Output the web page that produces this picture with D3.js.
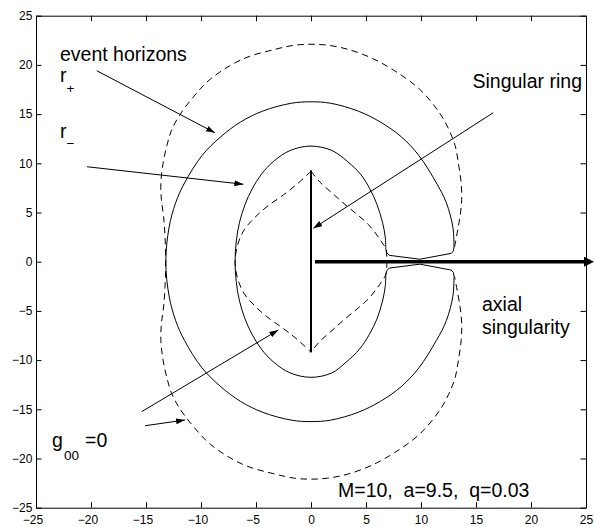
<!DOCTYPE html>
<html>
<head>
<meta charset="utf-8">
<script src="https://cdn.jsdelivr.net/npm/d3@7"></script>
<style>
  body { margin: 0; background: #fff; }
  svg { display: block; font-family: "Liberation Sans", Arial, Helvetica, sans-serif; }
  .axis text { font-size: 12px; fill: #000; font-family: "Liberation Sans", Arial, Helvetica, sans-serif; }
  .axis path, .axis line { stroke: #000; stroke-width: 1; }
  .note { font-size: 19.5px; fill: #000; white-space: pre; }
  .sub { font-size: 13.5px; fill: #000; }
</style>
</head>
<body>
<svg width="594" height="527"></svg>
<script>
const xTicks = [-25, -20, -15, -10, -5, 0, 5, 10, 15, 20, 25];
const yTicks = [-25, -20, -15, -10, -5, 0, 5, 10, 15, 20, 25];

// outer horizon r+, from the upper pinch corner round the left side to the lower one
const rPlus = [
  [13.0, 1.5], [12.9, 3.5], [12.3, 6.0], [11.4, 8.0], [9.8, 10.8], [8.2, 12.7], [6.3, 14.2],
  [4.3, 15.3], [1.8, 16.1], [0, 16.25], [-1.8, 16.1], [-4.4, 15.3], [-6.4, 14.2], [-8.2, 12.7],
  [-9.9, 10.8], [-11.5, 8.0], [-12.3, 6.0], [-12.9, 3.5], [-13.2, 0], [-12.9, -3.5], [-12.3, -6.0],
  [-11.5, -8.0], [-9.9, -10.8], [-8.2, -12.7], [-6.4, -14.2], [-4.4, -15.3], [-1.8, -16.1], [0, -16.25],
  [1.8, -16.1], [4.3, -15.3], [6.3, -14.2], [8.2, -12.7], [9.8, -10.8], [11.4, -8.0], [12.3, -6.0],
  [12.9, -3.5], [13.0, -1.5]
];

// inner horizon r-
const rMinus = [
  [6.8, 1.3], [6.75, 2.5], [6.5, 4.0], [6.0, 5.8], [5.35, 7.4], [4.5, 8.9], [3.3, 10.2], [1.9, 11.3],
  [0, 11.75], [-1.9, 11.3], [-3.4, 10.2], [-4.5, 8.9], [-5.35, 7.4], [-6.0, 5.8], [-6.5, 4.0],
  [-6.8, 2.0], [-6.9, 0], [-6.8, -2.0], [-6.5, -4.0], [-6.0, -5.8], [-5.35, -7.4], [-4.5, -8.9],
  [-3.4, -10.2], [-1.9, -11.3], [0, -11.75], [1.9, -11.3], [3.2, -10.2], [4.4, -8.9], [5.3, -7.4],
  [6.0, -5.8], [6.5, -4.0], [6.75, -2.5], [6.8, -1.3]
];

// the two pieces joining r- and r+ near the axis
const pinchUpper = [[6.8, 1.3], [6.9, 0.9], [7.1, 0.65], [9.9, 0.25], [12.75, 0.85], [12.95, 1.1], [13.0, 1.5]];
const pinchLower = [[6.8, -1.3], [6.9, -0.9], [7.1, -0.65], [9.9, -0.25], [12.75, -0.85], [12.95, -1.1], [13.0, -1.5]];

// g00 = 0, outer sheet
const ergoOuter = [
  [13.05, 1.5], [13.3, 3.0], [13.55, 4.6], [13.7, 6.3], [13.65, 8.0], [13.4, 10.0], [13.1, 11.8],
  [12.5, 13.5], [11.7, 15.1], [9.9, 17.5], [7.6, 19.4], [5.5, 20.7], [3.3, 21.6], [1.5, 22.0],
  [0, 22.1], [-1.5, 22.0], [-3.2, 21.6], [-6.2, 20.6], [-9.1, 18.6], [-10.8, 16.6], [-12.0, 14.8],
  [-12.7, 13.3], [-13.1, 11.8], [-13.45, 10.0], [-13.65, 8.0], [-13.6, 6.3], [-13.4, 4.6],
  [-13.27, 2.5], [-13.2, 0], [-13.27, -2.5], [-13.4, -4.6], [-13.6, -6.3], [-13.65, -8.0],
  [-13.45, -10.0], [-13.1, -11.8], [-12.7, -13.3], [-12.0, -14.8], [-10.8, -16.6], [-9.1, -18.6],
  [-6.2, -20.6], [-3.2, -21.6], [-1.5, -22.0], [0, -22.1], [1.5, -22.0], [3.3, -21.6], [5.5, -20.7],
  [7.6, -19.4], [9.9, -17.5], [11.7, -15.1], [12.5, -13.5], [13.1, -11.8], [13.4, -10.0],
  [13.65, -8.0], [13.7, -6.3], [13.55, -4.6], [13.3, -3.0], [13.05, -1.5]
];

// g00 = 0, inner sheet (left and right of the ring)
const ergoInnerLeft = [
  [0, 9.2], [-1.2, 7.95], [-2.5, 6.8], [-4.0, 5.6], [-5.1, 4.5], [-6.1, 3.2], [-6.7, 1.6], [-6.9, 0],
  [-6.7, -1.6], [-6.1, -3.2], [-5.1, -4.5], [-4.0, -5.6], [-2.5, -6.8], [-1.2, -7.95], [0, -9.2]
];
const ergoInnerRight = [
  [0, 9.2], [0.8, 8.1], [2.0, 6.9], [3.0, 5.9], [4.3, 4.7], [5.2, 3.8], [6.0, 2.7], [6.45, 1.95], [6.8, 1.3],
  [6.8, -1.3], [6.45, -1.95], [6.0, -2.7], [5.2, -3.8], [4.3, -4.7], [3.0, -5.9], [2.0, -6.9], [0.8, -8.1], [0, -9.2]
];

const singularRing = [[0, 9.3], [0, -9.2]];
const axialLine = [[0.36, 0], [25.0, 0]];

// annotation pointers: [from, to]
const pointers = [
  [[-19.48, 19.41], [-8.73, 13.1]],
  [[-20.36, 9.65], [-6.15, 7.87]],
  [[16.57, 15.14], [0.21, 3.39]],
  [[-15.39, -15.24], [-2.97, -6.94]],
  [[-15.09, -16.67], [-11.45, -16.09]]
];

class HorizonPlot {
  constructor () {
    this.svg = d3.select('svg');
    this.margin = {top: 15.7, right: 8, bottom: 19.3, left: 36};
    this.width = +this.svg.attr('width') - this.margin.left - this.margin.right;
    this.height = +this.svg.attr('height') - this.margin.top - this.margin.bottom;
    this.g = this.svg.append('g').attr('transform', `translate(${this.margin.left},${this.margin.top})`);

    this.x = d3.scaleLinear().domain([-25, 25]).range([0, this.width]);
    this.y = d3.scaleLinear().domain([-25, 25]).range([this.height, 0]);
    this.smooth = d3.line()
      .x(d => this.x(d[0]))
      .y(d => this.y(d[1]))
      .curve(d3.curveCatmullRom.alpha(0.5));
    this.straight = d3.line()
      .x(d => this.x(d[0]))
      .y(d => this.y(d[1]));

    this._drawMarkers();
    this._drawAxes();
    this._drawCurves();
    this._drawNotes();
  }

  _drawMarkers () {
    let defs = this.svg.append('defs');

    defs.append('marker')
      .attr('id', 'head')
      .attr('viewBox', '0 -3 9 6')
      .attr('refX', 9).attr('refY', 0)
      .attr('markerWidth', 9).attr('markerHeight', 6)
      .attr('markerUnits', 'userSpaceOnUse')
      .attr('orient', 'auto')
      .append('path').attr('d', 'M0,-3L9,0L0,3Z').attr('fill', '#000');

    defs.append('marker')
      .attr('id', 'bighead')
      .attr('viewBox', '0 -5 10 10')
      .attr('refX', 2).attr('refY', 0)
      .attr('markerWidth', 10).attr('markerHeight', 10)
      .attr('markerUnits', 'userSpaceOnUse')
      .attr('orient', 'auto')
      .append('path').attr('d', 'M0,-5L10,0L0,5Z').attr('fill', '#000');
  }

  _drawAxes () {
    let tick = -5.5;

    this.g.append('g')
      .attr('class', 'axis')
      .attr('transform', `translate(0,${this.height})`)
      .call(d3.axisBottom(this.x).tickValues(xTicks).tickSizeInner(tick).tickSizeOuter(0).tickPadding(7.8))
      .selectAll('text')
      .attr('dx', d => d < 0 ? -3.5 : 0);

    this.g.append('g')
      .attr('class', 'axis')
      .call(d3.axisTop(this.x).tickValues(xTicks).tickSizeInner(tick).tickSizeOuter(0).tickFormat(''));

    this.g.append('g')
      .attr('class', 'axis')
      .call(d3.axisLeft(this.y).tickValues(yTicks).tickSizeInner(tick).tickSizeOuter(0).tickPadding(3.7));

    this.g.append('g')
      .attr('class', 'axis')
      .attr('transform', `translate(${this.width},0)`)
      .call(d3.axisRight(this.y).tickValues(yTicks).tickSizeInner(tick).tickSizeOuter(0).tickFormat(''));
  }

  _drawCurves () {
    let curves = this.g.append('g')
      .attr('fill', 'none')
      .attr('stroke', '#000');

    // horizons
    curves.selectAll('.horizon')
      .data([rPlus, rMinus]).enter()
      .append('path')
      .attr('class', 'horizon')
      .attr('stroke-width', 1)
      .attr('d', d => this.smooth(d));

    curves.selectAll('.pinch')
      .data([pinchUpper, pinchLower]).enter()
      .append('path')
      .attr('class', 'pinch')
      .attr('stroke-width', 1)
      .attr('stroke-linejoin', 'round')
      .attr('d', d => this.straight(d));

    // g00 = 0
    curves.selectAll('.ergo')
      .data([ergoOuter, ergoInnerLeft, ergoInnerRight]).enter()
      .append('path')
      .attr('class', 'ergo')
      .attr('stroke-width', 1)
      .attr('stroke-dasharray', '6.5,4.5')
      .attr('d', d => this.smooth(d));

    curves.append('path')
      .attr('stroke-width', 2)
      .attr('d', this.straight(singularRing));

    curves.append('path')
      .attr('stroke-width', 3.6)
      .attr('marker-end', 'url(#bighead)')
      .attr('d', this.straight(axialLine));

    curves.selectAll('.pointer')
      .data(pointers).enter()
      .append('path')
      .attr('class', 'pointer')
      .attr('stroke-width', 1)
      .attr('marker-end', 'url(#head)')
      .attr('d', d => this.straight(d));
  }

  _drawNotes () {
    let notes = this.svg.append('g');
    let put = (cls, x, y, txt) => notes.append('text')
      .attr('class', cls).attr('x', x).attr('y', y).text(txt);

    put('note', 60, 60.7, 'event horizons');
    put('note', 60, 82, 'r');
    put('sub', 66.5, 92.5, '+');
    put('note', 60, 138, 'r');
    put('sub', 66.5, 147.5, '\u2212');
    put('note', 472.5, 87.8, 'Singular ring');
    put('note', 482, 310.5, 'axial');
    put('note', 482, 334, 'singularity');
    put('note', 52, 446.5, 'g');
    put('sub', 64, 459.5, '00');
    put('note', 85, 446.5, '=0');
    put('note', 338, 496.7, 'M=10,  a=9.5,  q=0.03');
  }
}

window.addEventListener('load', _ => new HorizonPlot());
</script>
</body>
</html>
